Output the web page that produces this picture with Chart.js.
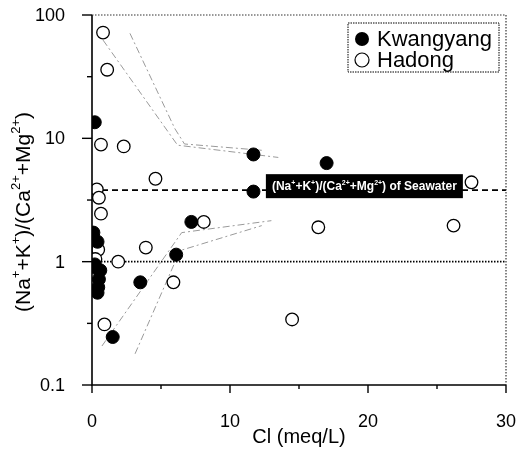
<!DOCTYPE html>
<html>
<head>
<meta charset="utf-8">
<script src="https://cdn.jsdelivr.net/npm/chart.js@4/dist/chart.umd.min.js"></script>
<style>
  html, body { margin: 0; padding: 0; background: #fff; }
</style>
</head>
<body>
<canvas id="myChart" width="520" height="454"></canvas>
<script>
// ---- data ----
var kwangyangCl    = [0.2, 0.1, 0.4, 0.2, 0.35, 0.6, 0.5, 0.45, 0.4, 1.5, 3.5, 6.1, 7.2, 11.7, 11.7, 17.0];
var kwangyangRatio = [13.5, 1.72, 1.45, 0.95, 0.88, 0.85, 0.72, 0.62, 0.56, 0.245, 0.68, 1.14, 2.1, 7.4, 3.7, 6.3];

var hadongCl    = [0.8, 1.1, 0.65, 2.3, 4.6, 0.35, 0.5, 0.65, 0.45, 0.25, 1.9, 3.9, 8.1, 5.9, 0.9, 16.4, 26.2, 14.5, 27.5];
var hadongRatio = [72, 36, 8.9, 8.6, 4.7, 3.85, 3.3, 2.45, 1.25, 1.05, 1.0, 1.3, 2.1, 0.68, 0.31, 1.9, 1.96, 0.34, 4.4];

var seawaterRatio = 3.8;
var unitRatio = 1;

// envelope (dash-dot) lines
var upperA_x = [0.8, 6.2, 13.5];
var upperA_y = [62.6, 8.8, 7.0];
var upperB_x = [2.75, 6.0, 6.7, 12.3];
var upperB_y = [71, 12.0, 9.0, 8.0];
var lowerC_x = [0.72, 5.07, 6.5, 13.0];
var lowerC_y = [0.207, 1.02, 1.72, 2.15];
var lowerD_x = [3.12, 6.38, 12.3];
var lowerD_y = [0.179, 1.23, 1.96];

var xTicks = [0, 5, 10, 15, 20, 25, 30];
var yTicks = [0.1, 0.316, 1, 3.16, 10, 31.6, 100];
var yTickLabels = ['0.1', '', '1', '', '10', '', '100'];

function pts(xs, ys) {
    var out = [];
    for (var i = 0; i < xs.length; i++) out.push({x: xs[i], y: ys[i]});
    return out;
}

var FONT = "'Liberation Sans', Arial, sans-serif";

// draws text made of pieces, some of them superscript
function drawRich(ctx, parts, x, y, size, bold, color) {
    var w = 0, i;
    var bigF = (bold ? 'bold ' : '') + size + 'px ' + FONT;
    var supF = (bold ? 'bold ' : '') + Math.round(size * 0.62) + 'px ' + FONT;
    for (i = 0; i < parts.length; i++) {
        ctx.font = parts[i][1] ? supF : bigF;
        w += ctx.measureText(parts[i][0]).width;
    }
    var cx = x - w / 2;
    ctx.fillStyle = color;
    ctx.textBaseline = 'middle';
    ctx.textAlign = 'left';
    for (i = 0; i < parts.length; i++) {
        ctx.font = parts[i][1] ? supF : bigF;
        ctx.fillText(parts[i][0], cx, parts[i][1] ? y - size * 0.38 : y);
        cx += ctx.measureText(parts[i][0]).width;
    }
    return w;
}

var ratioParts = [['(Na', 0], ['+', 1], ['+K', 0], ['+', 1], [')/(Ca', 0], ['2+', 1], ['+Mg', 0], ['2+', 1], [')', 0]];

var decorPlugin = {
    id: 'decor',
    afterDatasetsDraw: function(chart) {
        var ctx = chart.ctx, a = chart.chartArea;
        var xs = chart.scales.x, ys = chart.scales.y;
        ctx.save();

        // frame: solid left/bottom, dotted top/right
        ctx.strokeStyle = '#000';
        ctx.lineWidth = 1.6;
        ctx.beginPath();
        ctx.moveTo(a.left, a.top); ctx.lineTo(a.left, a.bottom); ctx.lineTo(a.right, a.bottom);
        ctx.stroke();
        ctx.lineWidth = 1.2;
        ctx.strokeStyle = '#333';
        ctx.setLineDash([1.5, 1.5]);
        ctx.beginPath();
        ctx.moveTo(a.left, a.top); ctx.lineTo(a.right, a.top); ctx.lineTo(a.right, a.bottom);
        ctx.stroke();
        ctx.setLineDash([]);

        // tick marks and y labels
        ctx.strokeStyle = '#000';
        ctx.lineWidth = 1.4;
        xTicks.forEach(function(v) {
            var px = xs.getPixelForValue(v);
            var len = (v % 10 === 0) ? 8 : 4;
            ctx.beginPath(); ctx.moveTo(px, a.bottom); ctx.lineTo(px, a.bottom + len); ctx.stroke();
        });
        ctx.fillStyle = '#000';
        ctx.font = '18px ' + FONT;
        ctx.textAlign = 'right';
        ctx.textBaseline = 'middle';
        yTicks.forEach(function(v, i) {
            var py = ys.getPixelForValue(v);
            var len = yTickLabels[i] ? 10 : 5;
            ctx.beginPath(); ctx.moveTo(a.left - len, py); ctx.lineTo(a.left, py); ctx.stroke();
            if (yTickLabels[i]) ctx.fillText(yTickLabels[i], a.left - 27, py + 1);
        });

        // seawater label box
        var lx = xs.getPixelForValue(12.6);
        var ly = ys.getPixelForValue(seawaterRatio) - 4;
        ctx.fillStyle = '#000';
        ctx.fillRect(lx, ly - 12, 197, 24);
        var lbl = ratioParts.concat([[' of Seawater', 0]]);
        drawRich(ctx, lbl, lx + 98.5, ly + 1, 12, true, '#fff');

        // legend
        var bx = a.right - 158, by = a.top + 8, bw = 151, bh = 49;
        ctx.fillStyle = '#fff';
        ctx.fillRect(bx, by, bw, bh);
        ctx.strokeStyle = '#000';
        ctx.lineWidth = 1;
        ctx.setLineDash([1.5, 1]);
        ctx.strokeRect(bx, by, bw, bh);
        ctx.setLineDash([]);
        ctx.beginPath(); ctx.arc(bx + 14, by + 16, 7, 0, Math.PI * 2);
        ctx.fillStyle = '#000'; ctx.fill();
        ctx.beginPath(); ctx.arc(bx + 14, by + 37, 7, 0, Math.PI * 2);
        ctx.lineWidth = 1.2; ctx.stroke();
        ctx.fillStyle = '#000';
        ctx.font = '22px ' + FONT;
        ctx.textAlign = 'left';
        ctx.textBaseline = 'middle';
        ctx.fillText('Kwangyang', bx + 29, by + 17);
        ctx.fillText('Hadong', bx + 29, by + 38);

        // y axis title
        ctx.translate(24, (a.top + a.bottom) / 2 + 12);
        ctx.rotate(-Math.PI / 2);
        drawRich(ctx, ratioParts, 0, 0, 21, false, '#000');
        ctx.restore();
    }
};

var envStyle = {
    type: 'line', showLine: true, pointRadius: 0, borderColor: '#9a9a9a',
    borderWidth: 1, borderDash: [7, 3, 2, 3], fill: false, order: 5
};

var ctx = document.getElementById('myChart').getContext('2d');
var myChart = new Chart(ctx, {
    type: 'scatter',
    data: {
        datasets: [
            {
                label: 'Kwangyang',
                data: pts(kwangyangCl, kwangyangRatio),
                backgroundColor: '#000', borderColor: '#000',
                pointRadius: 6.5, borderWidth: 1, order: 1
            },
            {
                label: 'Hadong',
                data: pts(hadongCl, hadongRatio),
                backgroundColor: '#fff', borderColor: '#000',
                pointRadius: 6.3, borderWidth: 1.3, order: 2
            },
            Object.assign({ data: pts([0, 30], [seawaterRatio, seawaterRatio]) }, {
                type: 'line', showLine: true, pointRadius: 0, borderColor: '#000',
                borderWidth: 1.6, borderDash: [6, 4], order: 4
            }),
            Object.assign({ data: pts([0, 30], [unitRatio, unitRatio]) }, {
                type: 'line', showLine: true, pointRadius: 0, borderColor: '#000',
                borderWidth: 1.6, borderDash: [1.5, 1.5], order: 4
            }),
            Object.assign({ data: pts(upperA_x, upperA_y) }, envStyle),
            Object.assign({ data: pts(upperB_x, upperB_y) }, envStyle),
            Object.assign({ data: pts(lowerC_x, lowerC_y) }, envStyle),
            Object.assign({ data: pts(lowerD_x, lowerD_y) }, envStyle)
        ]
    },
    options: {
        responsive: false,
        animation: false,
        devicePixelRatio: 1,
        layout: { padding: { top: 15, right: 14, left: 0, bottom: 0 } },
        plugins: { legend: { display: false }, tooltip: { enabled: false } },
        scales: {
            x: {
                type: 'linear', min: 0, max: 30,
                grid: { display: false }, border: { display: false },
                ticks: { stepSize: 10, padding: 18, color: '#000', font: { size: 18, family: FONT } },
                title: { display: true, text: 'Cl (meq/L)', color: '#000', font: { size: 20, family: FONT }, padding: { top: 0, bottom: 5 } },
                afterFit: function(s) { s.height = 69; s.paddingLeft = 0; s.paddingRight = 0; }
            },
            y: {
                type: 'logarithmic', min: 0.1, max: 100,
                grid: { display: false }, border: { display: false },
                afterBuildTicks: function(s) { s.ticks = yTicks.map(function(v) { return {value: v}; }); },
                ticks: { display: false },
                afterFit: function(s) { s.width = 92; s.paddingTop = 0; s.paddingBottom = 0; }
            }
        }
    },
    plugins: [decorPlugin]
});
</script>
</body>
</html>
